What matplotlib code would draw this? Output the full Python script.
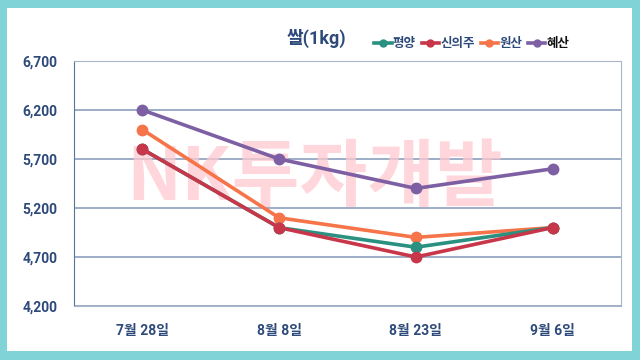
import matplotlib.pyplot as plt
from matplotlib.patches import Rectangle
from matplotlib.lines import Line2D

plt.rcParams['font.family'] = ['Roboto', 'Noto Sans CJK KR', 'DejaVu Sans']

# --- data ---
dates = ["7월 28일", "8월 8일", "8월 23일", "9월 6일"]
pyongyang = [5800, 5000, 4800, 5000]
sinuiju = [5800, 5000, 4700, 5000]
wonsan = [6000, 5100, 4900, 5000]
hyesan = [6200, 5700, 5400, 5600]
series_names = ["평양", "신의주", "원산", "혜산"]
yticks = [4200, 4700, 5200, 5700, 6200, 6700]

colors = ["#2a9080", "#c8364a", "#f57449", "#7d5fa3"]
text_col = "#2e4a7a"

fig = plt.figure(figsize=(6.4, 3.6), dpi=100, facecolor="#80d3d6")
fig.patches.append(Rectangle((7 / 640, 9 / 360), 625 / 640, 343 / 360,
                             transform=fig.transFigure, facecolor="white",
                             edgecolor="none", zorder=-10))

ax = fig.add_axes([74 / 640, 54 / 360, 547 / 640, 245 / 360])
ax.set_facecolor("none")

x = range(len(dates))
# order: purple behind, then orange, teal, red on top
for vals, c, z in [(hyesan, colors[3], 3), (wonsan, colors[2], 4),
                   (pyongyang, colors[0], 5), (sinuiju, colors[1], 6)]:
    ax.plot(x, vals, color=c, lw=2.6, marker="o", ms=7.5, zorder=z)

ax.set_xlim(-0.5, len(dates) - 0.5)
ax.set_ylim(4200, 6700)
ax.set_yticks(yticks)
ax.set_yticklabels([f"{v:,}" for v in yticks])
ax.set_xticks(list(x))
ax.set_xticklabels(dates)
ax.yaxis.grid(True, color="#8d9fbd", lw=1.2, zorder=1)
ax.set_axisbelow(True)
ax.tick_params(length=0, labelcolor=text_col, labelsize=10)
ax.tick_params(axis="y", pad=12)
ax.tick_params(axis="x", pad=13)
for lab in ax.get_xticklabels() + ax.get_yticklabels():
    lab.set_fontweight("bold")
for s in ["top", "right", "bottom"]:
    ax.spines[s].set_color("#a9b6c9")
ax.spines["left"].set_color("#5a7298")

# watermark
ax.text(0.439, 0.52, "NK투자개발", transform=ax.transAxes, fontsize=53,
        fontweight=900, color="#ffc9cf", alpha=0.75, ha="center",
        va="center", zorder=2, family=['Noto Sans CJK KR'])

fig.text(316 / 640, 1 - 38 / 360, "쌀(1kg)", fontsize=13, fontweight="bold",
         color=text_col, ha="center", va="center")

handles = [Line2D([], [], color=c, lw=2.6, marker="o", ms=5) for c in colors]
leg = fig.legend(handles, series_names, loc="center left",
                 bbox_to_anchor=(368 / 640, 1 - 44 / 360), ncol=4,
                 frameon=False, handlelength=1.4, handletextpad=0.1,
                 columnspacing=0.45, borderpad=0, prop={"size": 9, "weight": "bold"})
for i, t in enumerate(leg.get_texts()):
    t.set_color("#111111" if i == 3 else text_col)

fig.savefig("out.png", dpi=100, facecolor=fig.get_facecolor())
